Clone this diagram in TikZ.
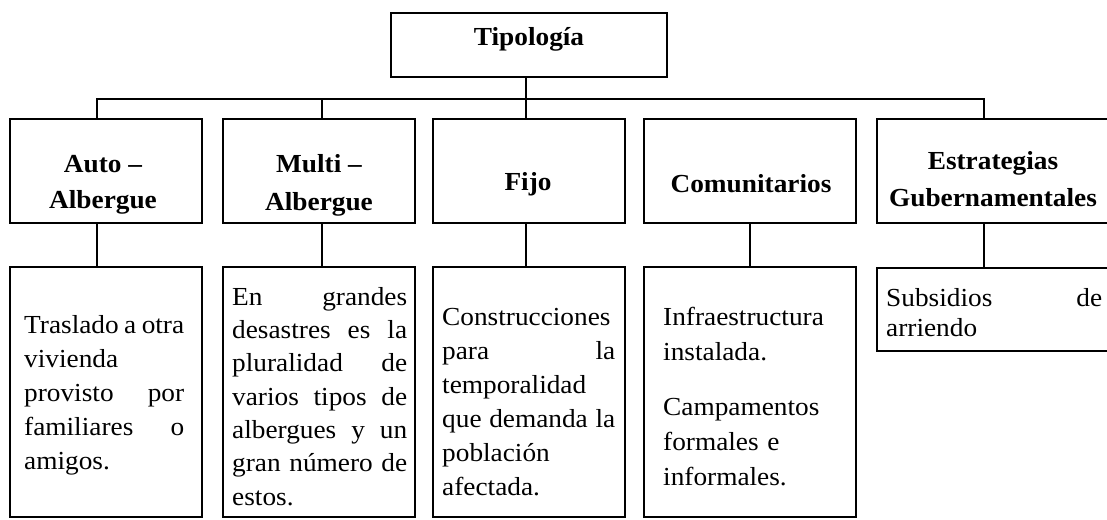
\documentclass[tikz,border=0pt]{standalone}
\usepackage{fontspec}
\setmainfont{Liberation Serif}[FakeStretch=1.05]
\begin{document}
\begin{tikzpicture}[x=1pt,y=-1pt,
  box/.style={draw=black, line width=2.6pt, inner sep=0pt},
  conn/.style={draw=black, line width=2pt},
  head/.style={font=\fontsize{26}{36}\selectfont\bfseries, align=center, inner sep=0pt},
  body/.style={font=\fontsize{26}{34}\selectfont, align=left, inner sep=0pt, anchor=north west, execute at begin node=\rule{0pt}{20pt}},
]
\useasboundingbox[fill=white] (0,0) rectangle (1107,519);
\clip (0,0) rectangle (1107,519);

% level 0
\node[box, minimum width=276pt, minimum height=64pt] (tip) at (529,45) {};
\node[head] (tipt) at (529,39.5) {Tipología};

% level 1
\node[box, minimum width=192pt, minimum height=104pt] (auto1) at (106,171) {};
\node[box, minimum width=192pt, minimum height=104pt] (multi1) at (319,171) {};
\node[box, minimum width=192pt, minimum height=104pt] (fijo1) at (529,171) {};
\node[box, minimum width=212pt, minimum height=104pt] (com1) at (750,171) {};
\node[box, minimum width=232pt, minimum height=104pt] (est1) at (993,171) {};

\node[head] (auto1t) at (103,185) {Auto –\\Albergue};
\node[head, font=\fontsize{26}{38}\selectfont\bfseries] (multi1t) at (319,185) {Multi –\\Albergue};
\node[head] (fijo1t) at (528,184) {Fijo};
\node[head] (com1t) at (751,184) {Comunitarios};
\node[head, font=\fontsize{26}{37}\selectfont\bfseries] (est1t) at (993,179) {Estrategias\\Gubernamentales};

% level 2
\node[box, minimum width=192pt, minimum height=250pt] (auto2) at (106,392) {};
\node[box, minimum width=192pt, minimum height=250pt] (multi2) at (319,392) {};
\node[box, minimum width=192pt, minimum height=250pt] (fijo2) at (529,392) {};
\node[box, minimum width=212pt, minimum height=250pt] (com2) at (750,392) {};
\node[box, minimum width=232pt, minimum height=83pt] (est2) at (993,309.5) {};

\node[body, text width=160pt] (auto2t) at (24,313)
  {Traslado\hfill a\hfill otra\\ vivienda\\ provisto\hfill por\\ familiares\hfill o\\ amigos.};
\node[body, text width=175pt, font=\fontsize{26}{33.3}\selectfont] (multi2t) at (232,285)
  {En\hfill grandes\\ desastres\hfill es\hfill la\\ pluralidad\hfill de\\ varios\hfill tipos\hfill de\\ albergues\hfill y\hfill un\\ gran\hfill número\hfill de\\ estos.};
\node[body, text width=173pt] (fijo2t) at (442,305)
  {Construcciones\\ para\hfill la\\ temporalidad\\ que\hfill demanda\hfill la\\ población\\ afectada.};
\node[body, text width=180pt, font=\fontsize{26}{35}\selectfont] (com2t) at (663,305)
  {Infraestructura\\ instalada.\\[20pt] Campamentos\\ formales e\\ informales.};
\node[body, text width=216pt, font=\fontsize{26}{30}\selectfont] (est2t) at (886,286)
  {Subsidios\hfill de\\ arriendo};

% connectors
\coordinate (j1) at (97,99);
\coordinate (j2) at (322,99);
\coordinate (j3) at (526,99);
\coordinate (j5) at (984,99);
\draw[conn] (tip.south -| j3) -- (j3 |- fijo1.north);
\draw[conn] (j1 |- auto1.north) -- (j1) -- (j5) -- (j5 |- est1.north);
\draw[conn] (j2) -- (j2 |- multi1.north);

\draw[conn] (j1 |- auto1.south) -- (j1 |- auto2.north);
\draw[conn] (j2 |- multi1.south) -- (j2 |- multi2.north);
\draw[conn] (j3 |- fijo1.south) -- (j3 |- fijo2.north);
\draw[conn] (com1.south) -- (com2.north);
\draw[conn] (j5 |- est1.south) -- (j5 |- est2.north);
\end{tikzpicture}
\end{document}
